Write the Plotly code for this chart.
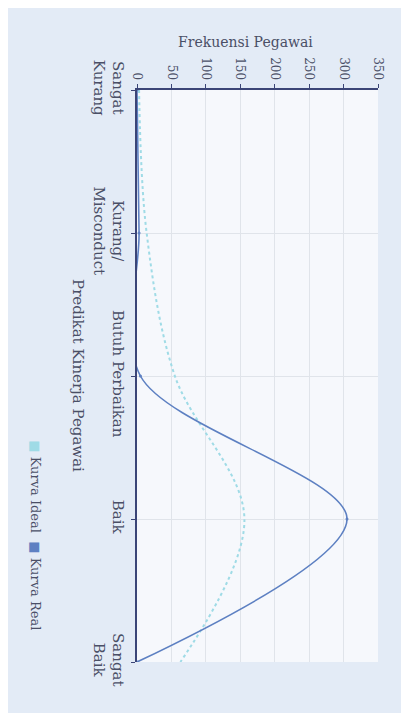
import plotly.graph_objects as go

categories = ["Sangat<br>Kurang", "Kurang/<br>Misconduct", "Butuh Perbaikan", "Baik", "Sangat<br>Baik"]
kurva_ideal = [3, 14, 55, 156, 63]
kurva_real = [0, 3, 5, 305, 0]
freq_ticks = [0, 50, 100, 150, 200, 250, 300, 350]

pos = list(range(len(categories)))

FONT = "DejaVu Serif"
TXT = "#4a4f66"
AXIS = "#3b4577"
IDEAL_C = "#9fdbe6"
REAL_C = "#5d80c2"

fig = go.Figure()
fig.add_trace(go.Scatter(
    x=kurva_ideal, y=pos, mode="lines", name="Kurva Ideal",
    line=dict(color=IDEAL_C, width=2, dash="dot", shape="spline", smoothing=1.0),
))
fig.add_trace(go.Scatter(
    x=kurva_real, y=pos, mode="lines+markers", name="Kurva Real",
    line=dict(color=REAL_C, width=1.6, shape="spline", smoothing=0.9),
    marker=dict(size=3, color=REAL_C),
))

fig.update_layout(
    width=401, height=705,
    margin=dict(l=129, r=31, t=82, b=51),
    paper_bgcolor="#e3ebf6",
    plot_bgcolor="#f6f8fc",
    showlegend=False,
    font=dict(family=FONT, size=12, color=TXT),
    xaxis=dict(
        side="top", range=[0, 350], tickvals=freq_ticks,
        ticktext=[str(v) for v in freq_ticks],
        tickangle=90, showgrid=True, gridcolor="#e0e4ea", gridwidth=1,
        showline=True, linecolor=AXIS, linewidth=1.5,
        ticks="outside", ticklen=4, tickcolor=AXIS,
        zeroline=False, tickfont=dict(size=12),
    ),
    yaxis=dict(
        range=[4, 0], tickvals=pos, ticktext=categories,
        tickangle=90, showgrid=True, gridcolor="#e0e4ea", gridwidth=1,
        showline=True, linecolor=AXIS, linewidth=1.5,
        ticks="outside", ticklen=4, tickcolor=AXIS,
        zeroline=False, tickfont=dict(size=15),
    ),
)

fig.add_annotation(
    text="Frekuensi Pegawai",
    xref="paper", yref="paper", x=0.45, y=1.084,
    xanchor="center", yanchor="middle", showarrow=False,
    font=dict(size=14, color=TXT, family=FONT),
)
fig.add_annotation(
    text="Predikat Kinerja Pegawai", textangle=90,
    xref="paper", yref="paper", x=-0.245, y=0.5,
    xanchor="center", yanchor="middle", showarrow=False,
    font=dict(size=15, color=TXT, family=FONT),
)
fig.add_annotation(
    text=f"<span style='color:{IDEAL_C}'>■</span> Kurva Ideal  <span style='color:{REAL_C}'>■</span> Kurva Real",
    textangle=90,
    xref="paper", yref="paper", x=-0.42, y=0.222,
    xanchor="center", yanchor="middle", showarrow=False,
    font=dict(size=13, color=TXT, family=FONT),
)

fig.write_html("out.html")
